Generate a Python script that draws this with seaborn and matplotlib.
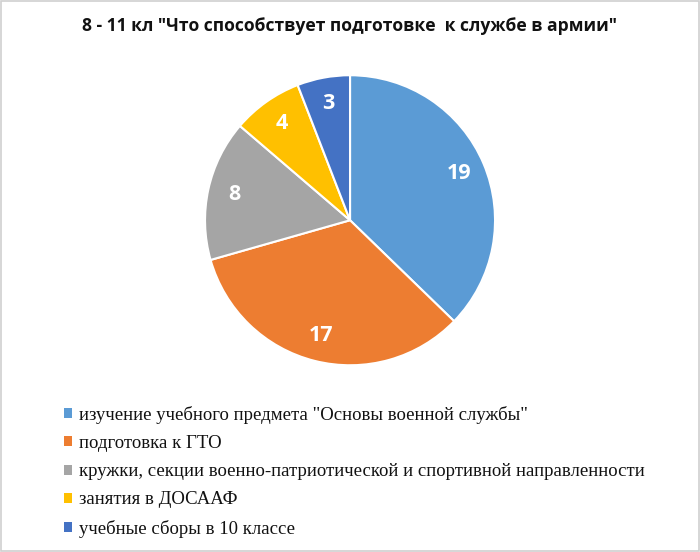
import matplotlib
matplotlib.use("Agg")
import matplotlib.pyplot as plt
import seaborn as sns
from matplotlib.patches import Patch, Rectangle

categories = [
    'изучение учебного предмета "Основы военной службы"',
    'подготовка к ГТО',
    'кружки, секции военно-патриотической и спортивной направленности',
    'занятия в ДОСААФ',
    'учебные сборы в 10 классе',
]
values = [19, 17, 8, 4, 3]
colors = ["#5B9BD5", "#ED7D31", "#A5A5A5", "#FFC000", "#4472C4"]
title = '8 - 11 кл "Что способствует подготовке  к службе в армии"'

sns.set_theme(style="white")
plt.rcParams['font.family'] = ['DejaVu Sans']

fig = plt.figure(figsize=(7.0, 5.52), dpi=100)
fig.patch.set_facecolor("white")
fig.patches.append(Rectangle((0.002, 0.002), 0.996, 0.996, transform=fig.transFigure,
                             fill=False, edgecolor="#D0D0D0", linewidth=1.2))

ax = fig.add_axes([0.5 - 0.2071, 0.601 - 0.2627, 0.4143, 0.5254])
wedges, texts, autotexts = ax.pie(
    values, colors=colors, startangle=90, counterclock=False,
    wedgeprops=dict(edgecolor="white", linewidth=1.5),
    autopct=lambda p: f"{round(p * sum(values) / 100):d}",
    pctdistance=0.82, textprops=dict(color="white", fontsize=15.5, fontweight="bold",
                                     family=["Open Sans", "DejaVu Sans"]))
ax.set_xlim(-1, 1)
ax.set_ylim(-1, 1)
ax.set_aspect("equal")

fig.text(0.5, 0.953, title, ha="center", va="center", fontsize=12.6, fontweight="bold",
         family=["Open Sans", "DejaVu Sans"], color="#111111")

handles = [Patch(facecolor=c, edgecolor="none") for c in colors]
leg = fig.legend(handles, categories, loc="upper left", bbox_to_anchor=(0.091, 0.265),
                 frameon=False, prop=dict(family="Liberation Serif", size=13.5),
                 handlelength=0.45, handleheight=0.45, handletextpad=0.35,
                 labelspacing=0.6, borderaxespad=0, borderpad=0)
for t in leg.get_texts():
    t.set_color("#111111")

fig.savefig("out.png", dpi=100, facecolor="white")
